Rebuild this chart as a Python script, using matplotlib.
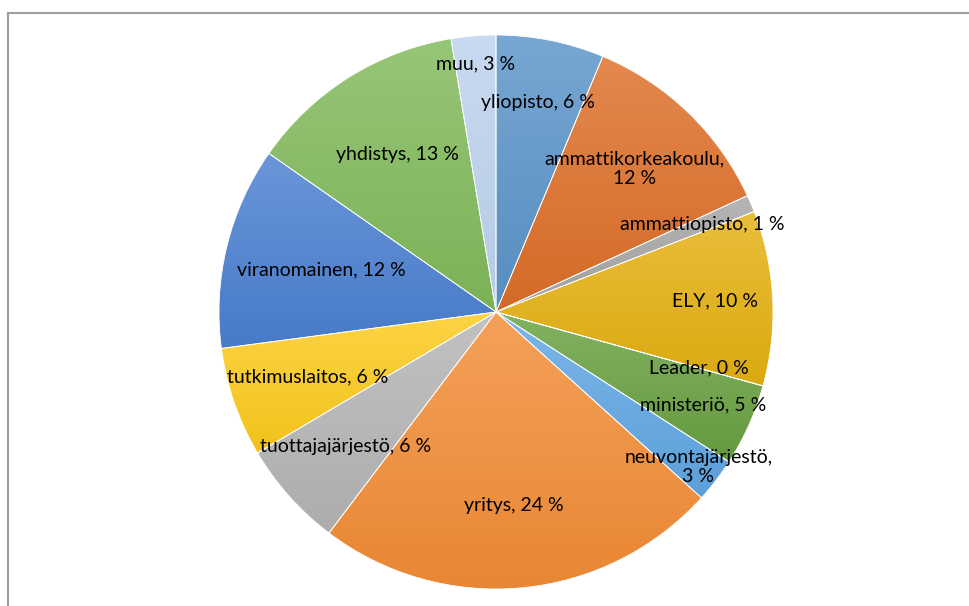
import numpy as np
import matplotlib
matplotlib.use("Agg")
import matplotlib.pyplot as plt
from matplotlib.colors import to_rgb
from matplotlib.lines import Line2D

categories = ["yliopisto", "ammattikorkeakoulu", "ammattiopisto", "ELY", "Leader",
              "ministeriö", "neuvontajärjestö", "yritys", "tuottajajärjestö",
              "tutkimuslaitos", "viranomainen", "yhdistys", "muu"]
shares = [6.3, 11.8, 1.0, 10.2, 0.0, 4.8, 2.6, 23.6, 6.2, 6.4, 11.8, 12.7, 2.6]
colors = ["#5a93c8", "#dd6e28", "#a5a5a5", "#e4b010", "#4472c4", "#68a040",
          "#5fa6e3", "#f28c35", "#b4b4b4", "#fcca1c", "#4a7fd0", "#80b95a", "#bcd2ed"]
# labels that Excel wrapped onto two lines
wrapped = {"ammattikorkeakoulu", "neuvontajärjestö"}
# radial distance of each label, as fraction of radius
label_frac = [0.77, 0.72, 0.81, 0.79, 0.76, 0.82, 0.92, 0.70, 0.73, 0.72, 0.65, 0.67, 0.90]

plt.rcParams['font.family'] = ['Lato', 'DejaVu Sans']

W, H = 969, 606
fig = plt.figure(figsize=(W / 100, H / 100), dpi=100)
ax = fig.add_axes([0, 0, 1, 1])

cx, cy, R = 496, H - 312, 277
wedges, _ = ax.pie(shares, startangle=90, counterclock=False, center=(cx, cy),
                   radius=R, normalize=True,
                   wedgeprops=dict(facecolor='none', edgecolor='white', linewidth=0.6, zorder=2))


def mix(c, other, t):
    c = np.array(to_rgb(c))
    return (1 - t) * c + t * np.array(other)


# vertical gradient fill per slice, lighter at the top
for w, col in zip(wedges, colors):
    if w.theta2 - w.theta1 < 1e-6:
        continue
    ext = w.get_path().get_extents()
    top = mix(col, (1, 1, 1), 0.18)
    bot = mix(col, (0, 0, 0), 0.04)
    t = np.linspace(0, 1, 64)[:, None, None]
    grad = top[None, None, :] * (1 - t) + bot[None, None, :] * t
    im = ax.imshow(grad, extent=(ext.x0, ext.x1, ext.y0, ext.y1), origin='upper',
                   aspect='auto', zorder=1, interpolation='bilinear')
    im.set_clip_path(w)

for w, name, val, f in zip(wedges, categories, shares, label_frac):
    mid = np.deg2rad((w.theta1 + w.theta2) / 2)
    sep = ",\n" if name in wrapped else ", "
    txt = f"{name}{sep}{round(val)} %"
    ax.text(cx + f * R * np.cos(mid), cy + f * R * np.sin(mid), txt,
            ha='center', va='center', multialignment='center',
            fontsize=14, color='black', linespacing=1.2, zorder=3)

ax.set_xlim(0, W)
ax.set_ylim(0, H)
ax.set_aspect('equal')
ax.axis('off')

# chart area border (only left and top edges are visible)
bx, by = 7.5 / W, 1 - 13 / H
fig.add_artist(Line2D([bx, bx], [-0.1, by], transform=fig.transFigure, color='#a0a0a0', lw=1.5))
fig.add_artist(Line2D([bx, 1.1], [by, by], transform=fig.transFigure, color='#a0a0a0', lw=1.5))

fig.savefig("out.png", dpi=100)
